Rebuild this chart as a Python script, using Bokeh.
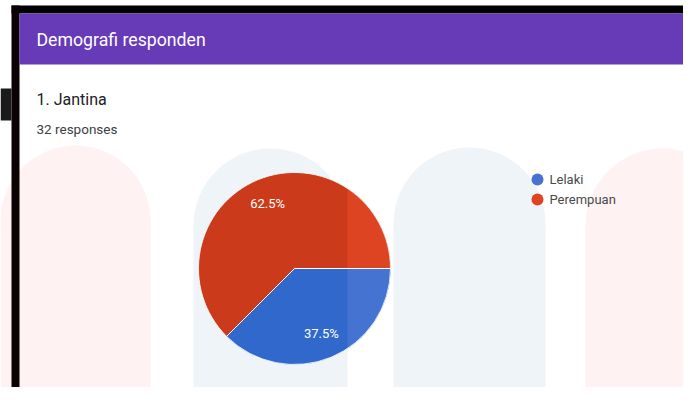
import numpy as np
from bokeh.plotting import figure
from bokeh.models import Range1d
from bokeh.embed import file_html
from bokeh.resources import INLINE
from bokeh.core.properties import value

# ---------------- data ----------------
section_title = "Demografi responden"
question = "1. Jantina"
responses_text = "32 responses"
categories = ["Lelaki", "Perempuan"]
percentages = [37.5, 62.5]
colors_dark = ["#3068CC", "#CB3A1B"]
colors_light = ["#4573D1", "#DD4522"]

# ---------------- layout (reference pixel coords) ----------------
W, H = 683, 387


def Y(ry):
    return H - ry


p = figure(width=W, height=H, x_range=Range1d(0, W), y_range=Range1d(0, H),
           output_backend="svg", toolbar_location=None, min_border=0)
p.axis.visible = False
p.grid.visible = False
p.outline_line_color = None
p.background_fill_color = "white"
p.border_fill_color = "white"

# watermark pills
pills = [  # cx, radius, top, color
    (75, 75, 145, "#FEF2F2"),
    (270, 77, 148, "#EFF4F8"),
    (469, 76, 147, "#EFF4F8"),
    (662, 77, 148, "#FEF2F2"),
]
for pcx, r, top, col in pills:
    p.circle(x=[pcx], y=[Y(top + r)], radius=r, fill_color=col, line_color=None)
    p.quad(left=[pcx - r], right=[pcx + r], top=[Y(top + r)], bottom=[Y(H + 20)],
           fill_color=col, line_color=None)

# dark frame
p.quad(left=[11], right=[W + 20], top=[Y(5)], bottom=[Y(13)], fill_color="#000000", line_color=None)
p.quad(left=[11], right=[19], top=[Y(5)], bottom=[Y(H + 20)], fill_color="#0b0303", line_color=None)
p.quad(left=[0], right=[11], top=[Y(88)], bottom=[Y(120)], fill_color="#1a1a1a", line_color=None)

# header
p.quad(left=[19], right=[W + 20], top=[Y(13)], bottom=[Y(64)], fill_color="#673AB7", line_color=None)
p.text(x=[36], y=[Y(39)], text=[section_title], text_font=value("Roboto"),
       text_font_size="17.7px", text_color="#FFFFFF", text_baseline="middle", text_align="left")

p.text(x=[36], y=[Y(99)], text=[question], text_font=value("Roboto"),
       text_font_size="16px", text_color="#202124", text_baseline="middle", text_align="left")
p.text(x=[36], y=[Y(128)], text=[responses_text], text_font=value("Roboto"),
       text_font_size="13.5px", text_color="#3c4043", text_baseline="middle", text_align="left")

# ---------------- pie ----------------
cx, cy, R = 294, Y(268), 96
fr = np.array(percentages) / sum(percentages)
cum = np.concatenate([[0], np.cumsum(fr)])
starts = -cum[:-1] * 2 * np.pi
ends = -cum[1:] * 2 * np.pi

p.wedge(x=[cx] * len(fr), y=[cy] * len(fr), radius=R, start_angle=list(starts),
        end_angle=list(ends), direction="clock", fill_color=colors_dark, line_color=None)


def clip_poly(poly, xc):
    out = []
    n = len(poly)
    for i in range(n):
        cur, prev = poly[i], poly[i - 1]
        cin, pin = cur[0] >= xc, prev[0] >= xc
        if cin != pin:
            t = (xc - prev[0]) / (cur[0] - prev[0])
            out.append((xc, prev[1] + t * (cur[1] - prev[1])))
        if cin:
            out.append(cur)
    return out


X_CUT = 347
xs, ys, cs = [], [], []
for s, e, col in zip(starts, ends, colors_light):
    ang = np.linspace(s, e, 200)
    poly = [(cx, cy)] + [(cx + R * np.cos(a), cy + R * np.sin(a)) for a in ang]
    cl = clip_poly(poly, X_CUT)
    if len(cl) >= 3:
        xs.append([q[0] for q in cl])
        ys.append([q[1] for q in cl])
        cs.append(col)
p.patches(xs=xs, ys=ys, fill_color=cs, line_color=None)

# slice separators
p.wedge(x=[cx] * len(fr), y=[cy] * len(fr), radius=R, start_angle=list(starts),
        end_angle=list(ends), direction="clock", fill_alpha=0, line_color="#FFFFFF",
        line_width=1, line_alpha=0.8)

mid = (starts + ends) / 2
lx = cx + 0.73 * R * np.cos(mid)
ly = cy + 0.73 * R * np.sin(mid)
p.text(x=list(lx), y=list(ly), text=[f"{v:.1f}%" for v in percentages],
       text_font=value("Roboto"), text_font_size="13px", text_color="#FFFFFF",
       text_align="center", text_baseline="middle")

# legend
leg_y = [179, 199]
p.circle(x=[537] * len(categories), y=[Y(v) for v in leg_y], radius=6,
         fill_color=colors_light, line_color=None)
p.text(x=[549] * len(categories), y=[Y(v) for v in leg_y], text=categories,
       text_font=value("Roboto"), text_font_size="13px", text_color="#4a4a4a",
       text_baseline="middle", text_align="left")

open("out.html", "w").write(file_html(p, INLINE))
